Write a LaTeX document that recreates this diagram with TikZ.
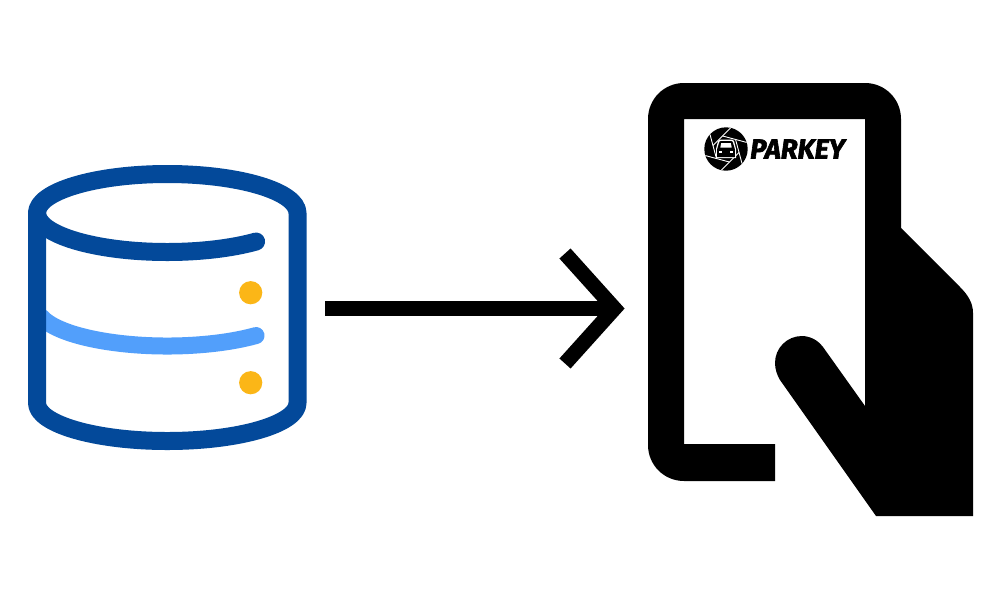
\documentclass[tikz,border=0pt]{standalone}
\usepackage{fontspec}
\newfontfamily\logofont[BoldItalicFeatures={FakeBold=2.2}]{Fira Sans}
\definecolor{dbdark}{HTML}{03499A}
\definecolor{dblight}{HTML}{529FFB}
\definecolor{dbdot}{HTML}{FBB617}
\tikzset{
  dbline/.style={draw=dbdark,line width=18pt},
  dbfront/.style={draw=dbdark,line width=18pt,line cap=round},
  dbband/.style={draw=dblight,line width=17pt,line cap=round},
  dbled/.style={fill=dbdot},
  arrowline/.style={draw=black,line width=15pt,miter limit=10},
  blackshape/.style={fill=black},
  aperture/.style={draw=white,line width=0.9pt},
}
\begin{document}
\begin{tikzpicture}[x=1pt,y=-1pt]
\useasboundingbox (0,0) rectangle (1000,600);
\fill[white] (0,0) rectangle (1000,600);
% database
\draw[dbband] (41.4,317.1) arc[start angle=195,end angle=313,x radius=130.25pt,y radius=39pt];
\draw[dbline,line join=round] (37,403) arc[start angle=180,end angle=360,x radius=130.25pt,y radius=38pt]
  -- (297.5,213) arc[start angle=0,end angle=180,x radius=130.25pt,y radius=39pt] -- cycle;
\draw[dbfront] (37,213) arc[start angle=180,end angle=313,x radius=130.25pt,y radius=39pt];
\fill[dbled] (250.7,292.7) circle[radius=11.6pt];
\fill[dbled] (250.7,382.7) circle[radius=11.6pt];
% arrow
\coordinate (dbout) at (325,308.5);
\coordinate (phonein) at (614.5,308.5);
\draw[arrowline] (dbout) -- (phonein);
\draw[arrowline] (565,253.5) -- (phonein) -- (565,363.5);
% phone and hand
\fill[blackshape] (775,444) -- (684,444) -- (684,119) -- (865,119) -- (865,406) -- (823,347)
  .. controls (815,336) and (803,336) .. (802,336)
  .. controls (787,336) and (775,348) .. (775,363)
  .. controls (775,369) and (777,375) .. (780,380)
  -- (876,516) -- (973,516) -- (973,313)
  .. controls (973,303) and (968,295) .. (960,287)
  -- (901,228) -- (901,119)
  .. controls (901,99) and (885,83) .. (865,83)
  -- (684,83)
  .. controls (664,83) and (648,99) .. (648,119)
  -- (648,445)
  .. controls (648,465) and (664,481) .. (684,481)
  -- (775,481) -- cycle;
% logo
\fill[black] (726,149) circle[radius=21.7pt];
\begin{scope}[shift={(726,149)}]
  \foreach \a in {15,75,135,195,255,315}{
    \draw[aperture] (\a:13.5) -- ++(\a+120:24.9);
  }
  \fill[white] (-10,9) -- (-10,0) -- (-8,-8) -- (-6,-9.5) -- (6,-9.5) -- (8,-8) -- (10,0) -- (10,9) -- cycle;
  \fill[black] (-8.8,0) -- (-7,-6) .. controls (-6.7,-7.5) and (-6,-8) .. (-5,-8) -- (5,-8)
     .. controls (6,-8) and (6.7,-7.5) .. (7,-6) -- (8.8,0) -- (8.8,8) -- (-8.8,8) -- cycle;
  \fill[white] (-5.7,-1.5) -- (-4.8,-6) -- (4.8,-6) -- (5.7,-1.5) -- cycle;
  \fill[white] (-6.7,1.5) rectangle (-3.7,3.7);
  \fill[white] (3.7,1.5) rectangle (6.7,3.7);
\end{scope}
\node[inner sep=0pt,anchor=west] (logotext) at (750,149)
  {\logofont\bfseries\itshape\fontsize{27.5}{27.5}\selectfont PARKEY};
\end{tikzpicture}
\end{document}
